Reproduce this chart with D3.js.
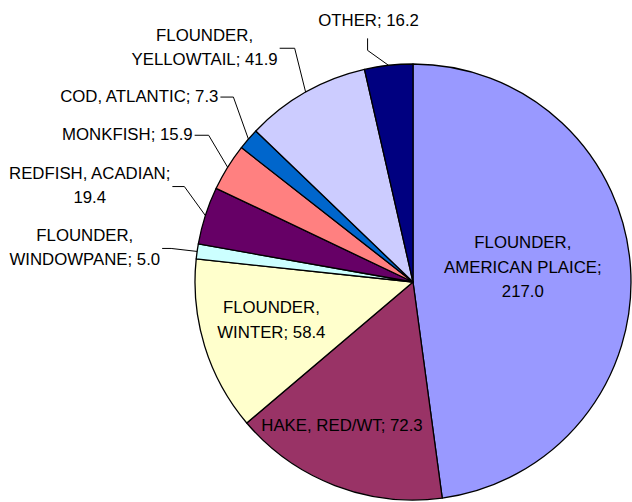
<!DOCTYPE html>
<html>
<head>
<meta charset="utf-8">
<script src="https://cdn.jsdelivr.net/npm/d3@7.9.0/dist/d3.min.js"></script>
<style>
  html, body { margin: 0; padding: 0; background: #fff; }
  svg text { font-family: "Liberation Sans", Arial, sans-serif; font-size: 16.8px; fill: #000; }
</style>
</head>
<body>
<svg id="chart" width="632" height="502"></svg>
<script>
// data, clockwise from 12 o'clock
const categories = [
  "FLOUNDER, AMERICAN PLAICE", "HAKE, RED/WT", "FLOUNDER, WINTER",
  "FLOUNDER, WINDOWPANE", "REDFISH, ACADIAN", "MONKFISH",
  "COD, ATLANTIC", "FLOUNDER, YELLOWTAIL", "OTHER"
];
const values = [217.0, 72.3, 58.4, 5.0, 19.4, 15.9, 7.3, 41.9, 16.2];
const colors = ["#9999FF", "#993366", "#FFFFCC", "#CCFFFF", "#660066", "#FF8080", "#0066CC", "#CCCCFF", "#000080"];

// how many words go on each label line
const lineWords = [[1, 2, 1], [4], [1, 2], [1, 2], [2, 1], [2], [3], [1, 2], [2]];

// label layout: inside labels (radius factor + nudge) or outside with leader lines
const labelLayout = [
  { inside: true, k: 0.505, dx: 0, dy: -8 },
  { inside: true, k: 0.73, dx: -14, dy: -6 },
  { inside: true, k: 0.675, dx: -1, dy: -6 },
  { inside: false, ex: -26, ey: -3, run: 9 },
  { inside: false, ex: -21, ey: -29, run: 12 },
  { inside: false, ex: -19, ey: -32, run: 14 },
  { inside: false, ex: -15, ey: -42, run: 13 },
  { inside: false, ex: -11, ey: -44, run: 15 },
  { inside: false, ex: -21, ey: -15, run: 12, up: true }
];

const cx = 413, cy = 282, r = 218;
const fs = 16.8, lh = 24.5;

const svg = d3.select("#chart");
const g = svg.append("g").attr("transform", `translate(${cx},${cy})`);

const data = categories.map((c, i) => ({ name: c, value: values[i], color: colors[i], i }));
const pie = d3.pie().sort(null).value(d => d.value);
const arcs = pie(data);
const arc = d3.arc().innerRadius(0).outerRadius(r);

g.selectAll("path.slice")
  .data(arcs)
  .join("path")
  .attr("class", "slice")
  .attr("d", arc)
  .attr("fill", d => d.data.color)
  .attr("stroke", "#000")
  .attr("stroke-width", 1.3)
  .attr("stroke-linejoin", "round");

function labelLines(d) {
  const words = `${d.name}; ${d.value.toFixed(1)}`.split(" ");
  const out = [];
  let k = 0;
  lineWords[d.i].forEach(n => { out.push(words.slice(k, k + n).join(" ")); k += n; });
  return out;
}

function polar(a, rad) {
  return [Math.sin(a) * rad, -Math.cos(a) * rad];
}

function addBlock(lines) {
  const t = g.append("text").attr("text-anchor", "middle");
  lines.forEach((s, j) => {
    t.append("tspan")
      .attr("x", 0)
      .attr("y", (j - (lines.length - 1) / 2) * lh + fs * 0.36)
      .text(s);
  });
  return t;
}

arcs.forEach(a => {
  const L = labelLayout[a.data.i];
  const mid = (a.startAngle + a.endAngle) / 2;
  const lines = labelLines(a.data);
  const t = addBlock(lines);

  if (L.inside) {
    const [x, y] = polar(mid, r * L.k);
    t.attr("transform", `translate(${x + L.dx},${y + L.dy})`);
    return;
  }

  const [px, py] = polar(mid, r);
  const ex = px + L.ex, ey = py + L.ey;
  const bb = t.node().getBBox();
  let pts;
  if (L.up) {
    const ty = ey - L.run;
    pts = [[px, py], [ex, ey], [ex, ty]];
    // baseline sits 12px above the top of the leader
    t.attr("transform", `translate(${ex + 1},${ty - 12 - fs * 0.36})`);
  } else {
    const tx = ex - L.run;
    pts = [[px, py], [ex, ey], [tx, ey]];
    t.attr("transform", `translate(${tx - 2 - (bb.x + bb.width)},${ey - 2 - (bb.y + bb.height / 2) + 1})`);
  }
  g.append("path")
    .attr("d", d3.line()(pts))
    .attr("fill", "none")
    .attr("stroke", "#000")
    .attr("stroke-width", 1);
});
</script>
</body>
</html>
